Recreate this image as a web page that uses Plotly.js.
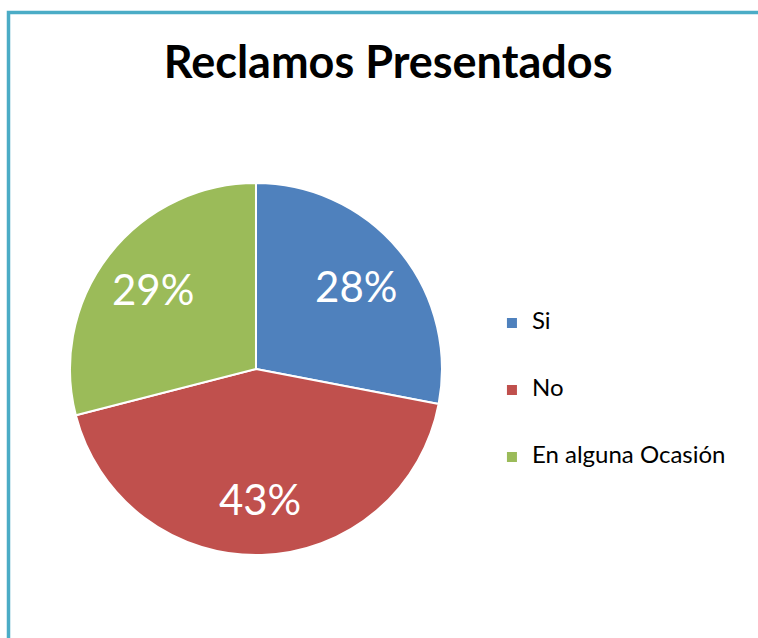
<!DOCTYPE html>
<html>
<head>
<meta charset="utf-8">
<script src="https://cdn.plot.ly/plotly-3.0.1.min.js"></script>
<style>html,body{margin:0;padding:0;background:#fff;}#chart{width:758px;height:638px;}</style>
</head>
<body>
<div id="chart"></div>
<script>
const categories = ['Si', 'No', 'En alguna Ocasión'];
const values = [28, 43, 29];
const colors = ['#4F81BD', '#C0504D', '#9BBB59'];
const chartTitle = 'Reclamos Presentados';

// legend labels padded with blank lines to space the legend entries apart
const legendLabels = categories.map(c => '\u00a0<br><span style="font-size:24px">' + c + '</span><br>\u00a0');
const pieDomain = {x: [0.0923, 0.5831], y: [0.130, 0.713]};

// filled pie with slice borders and the legend
const basePie = {
  type: 'pie',
  labels: legendLabels,
  values: values,
  sort: false,
  direction: 'clockwise',
  rotation: 0,
  marker: {colors: colors, line: {color: '#FFFFFF', width: 2}},
  textinfo: 'none',
  domain: pieDomain,
  hoverinfo: 'none'
};

// transparent ring on the same values, only used to carry the percentage labels further out
const labelRing = {
  type: 'pie',
  labels: legendLabels,
  values: values,
  sort: false,
  direction: 'clockwise',
  rotation: 0,
  hole: 0.40,
  showlegend: false,
  marker: {colors: ['rgba(0,0,0,0)', 'rgba(0,0,0,0)', 'rgba(0,0,0,0)'], line: {width: 0}},
  textinfo: 'percent',
  texttemplate: '%{percent:.0%}',
  textposition: 'inside',
  insidetextorientation: 'horizontal',
  textfont: {family: 'Lato', size: 42, color: '#FFFFFF'},
  domain: pieDomain,
  hoverinfo: 'none'
};

const layout = {
  width: 758, height: 638,
  margin: {l: 0, r: 0, t: 0, b: 0},
  paper_bgcolor: '#FFFFFF',
  title: {
    text: '<b>' + chartTitle + '</b>',
    font: {family: 'Lato', size: 45, color: '#000000'},
    x: 0.512, xanchor: 'center',
    y: 1 - 62 / 638, yanchor: 'middle',
    xref: 'paper', yref: 'container'
  },
  showlegend: true,
  legend: {
    x: 0.649, xanchor: 'left',
    y: 1 - 390 / 638, yanchor: 'middle',
    font: {family: 'Lato', size: 16.4, color: '#000000'},
    bgcolor: 'rgba(0,0,0,0)'
  },
  shapes: [{
    type: 'rect', xref: 'paper', yref: 'paper',
    x0: 8.5 / 758, x1: 1.05, y0: -0.05, y1: 1 - 12.5 / 638,
    line: {color: '#4BACC6', width: 3.5},
    fillcolor: 'rgba(0,0,0,0)', layer: 'below'
  }]
};

Plotly.newPlot('chart', [basePie, labelRing], layout, {displayModeBar: false, staticPlot: true});
</script>
</body>
</html>
